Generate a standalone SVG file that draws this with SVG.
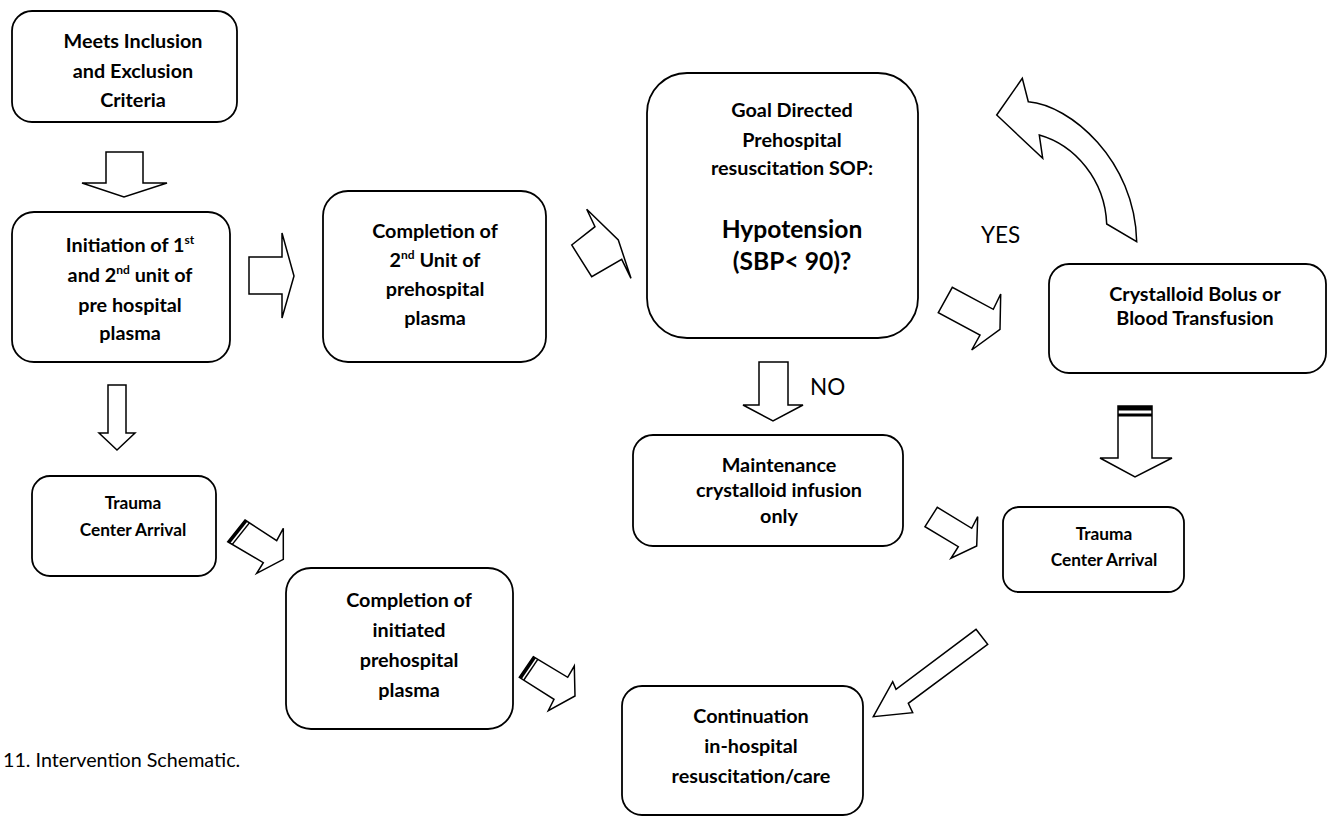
<svg xmlns="http://www.w3.org/2000/svg" width="1330" height="817" viewBox="0 0 1330 817">
<style>
.box{fill:#fff;stroke:#000;stroke-width:1.8}
.arr{fill:#fff;stroke:#000;stroke-width:1.5;stroke-linejoin:miter}
.band{fill:#000;stroke:none}
.t{font-family:Lato,"Open Sans",sans-serif;font-weight:bold;font-size:19.8px;fill:#000;text-anchor:middle}
.s{font-size:17.3px}
.big{font-size:24.6px}
.lbl{font-family:Lato,"Open Sans",sans-serif;font-size:22.5px;fill:#000}
.cap{font-family:Lato,"Open Sans",sans-serif;font-size:19.7px;fill:#000}
.sup{font-size:12px}
</style>
<rect width="1330" height="817" fill="#fff"/>
<g id="connectors">
  <polygon class="arr" points="106,152 143,152 143,183 167,183 124,197 82,183 106,183"/>
  <polygon class="arr" points="249,257 282,257 282,233 294,276 282,318 282,294 249,294"/>
  <polygon class="arr" points="108,385 126,385 126,433 135,433 117,450 99,433 108,433"/>
  <polygon class="arr" points="571.7,245 595,226.7 586.7,209.3 618.3,240 631,278.3 621.7,259.3 591.7,276.7"/>
  <polygon class="arr" points="938.3,312.7 952.3,287.3 993.3,309.3 1000.7,294 1000,329.3 971.7,350 980,335"/>
  <path class="arr" d="M996.7,115 L1022.3,78.3 L1028.3,101.7 C1070,105 1135,160 1136.7,241.7 L1106.7,224 C1105,180 1075,145 1039.3,135 L1042.7,158.3 Z"/>
  <polygon class="arr" points="759,362 788,362 788,405 803,405 773,421 743,405 759,405"/>
  <g id="striped-down">
    <polygon class="arr" points="1118,406 1152,406 1152,458 1172,458 1135,477 1100,458 1118,458"/>
    <rect class="band" x="1118" y="406" width="34" height="4.5"/>
    <rect class="band" x="1118" y="413.5" width="34" height="3"/>
  </g>
  <polygon class="arr" points="925,526.7 937.3,507.3 971.7,528.3 977.7,516.7 976.7,546 951,558.3 958.3,546.7"/>
  <polygon class="arr" points="976,629.3 987.7,644.3 908.3,703.3 912.7,712.7 873.3,716.7 892.7,681.7 896,689.3"/>
  <g id="striped-diag-1">
    <polygon class="arr" points="245,520 276.7,540.7 283.3,528.3 283.3,559.3 256.7,573.3 263.3,562.7 227.7,541.7"/>
    <polygon class="band" points="245,520 247.5,521.6 230.2,543.3 227.7,541.7"/>
    <polygon class="band" points="248.8,522.5 250,523.3 232.7,545 231.5,544.2"/>
  </g>
  <g id="striped-diag-2">
    <polygon class="arr" points="533.3,656.7 567.7,677.3 574.3,666 575,696 548.3,710.7 554,699.3 519.3,677.3"/>
    <polygon class="band" points="533.3,656.7 535.9,658.2 521.9,678.8 519.3,677.3"/>
    <polygon class="band" points="537.2,659 538.4,659.8 524.4,680.4 523.2,679.6"/>
  </g>
  <text class="lbl" x="981" y="243">YES</text>
  <text class="lbl" x="810" y="395">NO</text>
</g>
<g id="n-inclusion">
  <rect class="box" x="12" y="11" width="225" height="111" rx="20"/>
  <text class="t" x="133" y="48">Meets Inclusion</text>
  <text class="t" x="133" y="78">and Exclusion</text>
  <text class="t" x="133" y="107">Criteria</text>
</g>
<g id="n-initiation">
  <rect class="box" x="12" y="212" width="218" height="150" rx="22"/>
  <text class="t" x="130" y="252">Initiation of 1<tspan class="sup" dy="-8">st</tspan></text>
  <text class="t" x="130" y="282">and 2<tspan class="sup" dy="-8">nd</tspan><tspan dy="8"> unit of</tspan></text>
  <text class="t" x="130" y="312">pre hospital</text>
  <text class="t" x="130" y="340">plasma</text>
</g>
<g id="n-completion2">
  <rect class="box" x="323" y="191" width="223" height="171" rx="25"/>
  <text class="t" x="435" y="238">Completion of</text>
  <text class="t" x="435" y="267">2<tspan class="sup" dy="-8">nd</tspan><tspan dy="8"> Unit of</tspan></text>
  <text class="t" x="435" y="296">prehospital</text>
  <text class="t" x="435" y="325">plasma</text>
</g>
<g id="n-goal">
  <rect class="box" x="647" y="73" width="271" height="265" rx="40"/>
  <text class="t" x="792" y="117">Goal Directed</text>
  <text class="t" x="792" y="147">Prehospital</text>
  <text class="t" x="792" y="175">resuscitation SOP:</text>
  <text class="t big" x="792" y="238">Hypotension</text>
  <text class="t big" x="792" y="270">(SBP&lt; 90)?</text>
</g>
<g id="n-bolus">
  <rect class="box" x="1049" y="264" width="277" height="109" rx="20"/>
  <text class="t" x="1195" y="301">Crystalloid Bolus or</text>
  <text class="t" x="1195" y="325">Blood Transfusion</text>
</g>
<g id="n-trauma-left">
  <rect class="box" x="32" y="476" width="184" height="100" rx="18"/>
  <text class="t s" x="133" y="509">Trauma</text>
  <text class="t s" x="133" y="536">Center Arrival</text>
</g>
<g id="n-maintenance">
  <rect class="box" x="633" y="435" width="270" height="111" rx="20"/>
  <text class="t" x="779" y="472">Maintenance</text>
  <text class="t" x="779" y="497">crystalloid infusion</text>
  <text class="t" x="779" y="523">only</text>
</g>
<g id="n-trauma-right">
  <rect class="box" x="1003" y="507" width="181" height="85" rx="16"/>
  <text class="t s" x="1104" y="540">Trauma</text>
  <text class="t s" x="1104" y="566">Center Arrival</text>
</g>
<g id="n-completion-initiated">
  <rect class="box" x="286" y="568" width="227" height="161" rx="25"/>
  <text class="t" x="409" y="607">Completion of</text>
  <text class="t" x="409" y="637">initiated</text>
  <text class="t" x="409" y="667">prehospital</text>
  <text class="t" x="409" y="697">plasma</text>
</g>
<g id="n-continuation">
  <rect class="box" x="622" y="686" width="241" height="129" rx="20"/>
  <text class="t" x="751" y="723">Continuation</text>
  <text class="t" x="751" y="753">in-hospital</text>
  <text class="t" x="751" y="783">resuscitation/care</text>
</g>
<text class="cap" x="3" y="767">11. Intervention Schematic.</text>
</svg>
